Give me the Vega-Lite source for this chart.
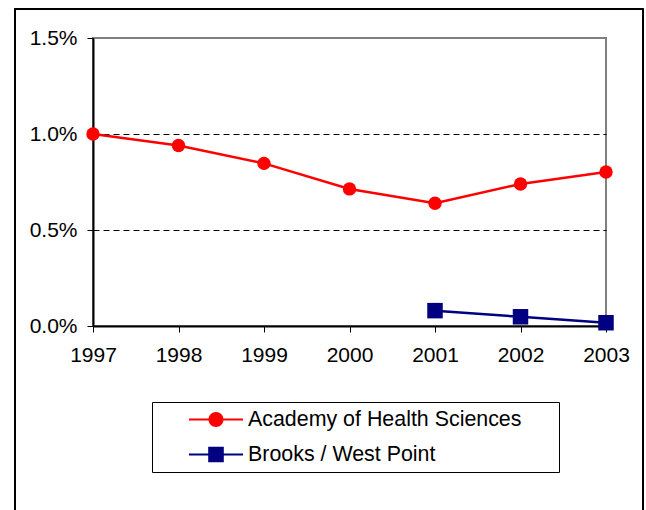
{
  "$schema": "https://vega.github.io/schema/vega-lite/v6.json",
  "width": 513,
  "height": 288,
  "autosize": "none",
  "padding": {"left": 93, "top": 38, "right": 40, "bottom": 184},
  "background": "white",
  "config": {
    "font": "Liberation Sans",
    "view": {"stroke": "#808080", "strokeWidth": 2},
    "axis": {
      "labelFont": "Liberation Sans",
      "labelFontSize": 21,
      "labelColor": "black",
      "domainColor": "black",
      "domainWidth": 2,
      "tickColor": "black",
      "tickWidth": 1,
      "tickSize": 6,
      "title": null,
      "zindex": 1
    }
  },
  "data": {
    "values": [
      {"year": 1997, "series": "Academy of Health Sciences", "rate": 0.0100},
      {"year": 1998, "series": "Academy of Health Sciences", "rate": 0.0094},
      {"year": 1999, "series": "Academy of Health Sciences", "rate": 0.00847},
      {"year": 2000, "series": "Academy of Health Sciences", "rate": 0.00714},
      {"year": 2001, "series": "Academy of Health Sciences", "rate": 0.00639},
      {"year": 2002, "series": "Academy of Health Sciences", "rate": 0.0074},
      {"year": 2003, "series": "Academy of Health Sciences", "rate": 0.00802},
      {"year": 2001, "series": "Brooks / West Point", "rate": 0.0008},
      {"year": 2002, "series": "Brooks / West Point", "rate": 0.00048},
      {"year": 2003, "series": "Brooks / West Point", "rate": 0.00017}
    ]
  },
  "layer": [
    {
      "mark": {"type": "rect", "fill": null, "filled": false, "stroke": "black", "strokeWidth": 1.2, "clip": false},
      "encoding": {
        "x": {"datum": 1996.09, "type": "quantitative"},
        "x2": {"datum": 2003.43},
        "y": {"datum": 0.01651, "type": "quantitative"},
        "y2": {"datum": -0.0105}
      }
    },
    {
      "mark": {"type": "line", "strokeWidth": 2.5},
      "encoding": {
        "x": {
          "field": "year", "type": "quantitative",
          "scale": {"domain": [1997, 2003], "nice": false, "zero": false},
          "axis": {"values": [1997, 1998, 1999, 2000, 2001, 2002, 2003], "format": "d", "grid": false, "labelPadding": 12, "labelFlush": false, "labelOverlap": false}
        },
        "y": {
          "field": "rate", "type": "quantitative",
          "scale": {"domain": [0, 0.015], "nice": false},
          "axis": {
            "values": [0, 0.005, 0.01, 0.015], "format": ".1%", "labelPadding": 10,
            "grid": true,
            "gridDash": [6, 4],
            "gridWidth": 1,
            "gridColor": {"condition": {"test": "datum.value <= 0 || datum.value >= 0.015", "value": "transparent"}, "value": "black"}
          }
        },
        "color": {
          "field": "series", "type": "nominal",
          "scale": {"domain": ["Academy of Health Sciences", "Brooks / West Point"], "range": ["#ff0000", "#000080"]},
          "legend": {
            "title": null,
            "orient": "none",
            "legendX": 59,
            "legendY": 364,
            "direction": "vertical",
            "fillColor": "white",
            "strokeColor": "black",
            "padding": 7,
            "cornerRadius": 0,
            "symbolSize": 2916,
            "symbolOffset": 30,
            "labelOffset": 5,
            "clipHeight": 21,
            "rowPadding": 13,
            "labelFont": "Liberation Sans",
            "labelFontSize": 21.4,
            "labelColor": "black",
            "labelLimit": 600,
            "labelExpr": "datum.label + '\u2800\u2800'",
            "encode": {
              "symbols": {
                "update": {
                  "shape": {"signal": "datum.value === 'Academy of Health Sciences' ? 'M-1,-0.04H1V0.04H-1Z M0.278,0A0.278,0.278,0,1,1,-0.278,0A0.278,0.278,0,1,1,0.278,0Z' : 'M-1,-0.04H1V0.04H-1Z M-0.289,-0.289H0.289V0.289H-0.289Z'"},
                  "size": {"value": 2916},
                  "fill": {"signal": "datum.value === 'Academy of Health Sciences' ? '#ff0000' : '#000080'"},
                  "stroke": {"value": "transparent"},
                  "strokeWidth": {"value": 0},
                  "opacity": {"value": 1}
                }
              }
            }
          }
        }
      }
    },
    {
      "transform": [{"filter": "datum.series === 'Academy of Health Sciences'"}],
      "mark": {"type": "point", "filled": true, "opacity": 1, "shape": "circle", "size": 180},
      "encoding": {
        "x": {"field": "year", "type": "quantitative"},
        "y": {"field": "rate", "type": "quantitative"},
        "color": {"field": "series", "type": "nominal"}
      }
    },
    {
      "transform": [{"filter": "datum.series === 'Brooks / West Point'"}],
      "mark": {"type": "point", "filled": true, "opacity": 1, "shape": "square", "size": 240},
      "encoding": {
        "x": {"field": "year", "type": "quantitative"},
        "y": {"field": "rate", "type": "quantitative"},
        "color": {"field": "series", "type": "nominal"}
      }
    }
  ]
}
